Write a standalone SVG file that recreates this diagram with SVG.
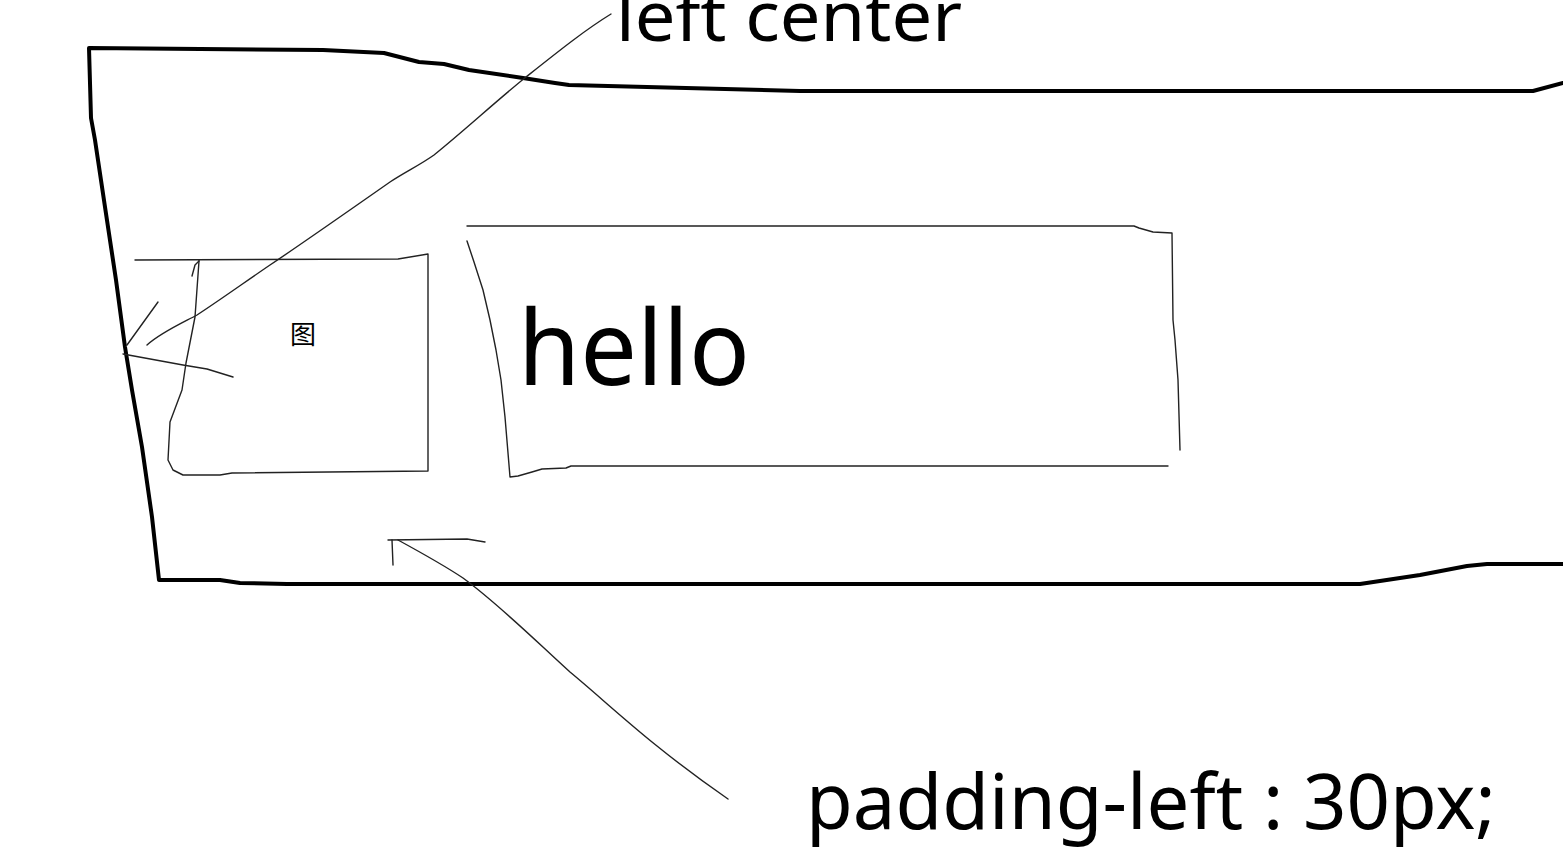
<svg xmlns="http://www.w3.org/2000/svg" width="1563" height="855" viewBox="0 0 1563 855">
<style>
.thick{fill:none;stroke:#000;stroke-width:4;stroke-linejoin:round;stroke-linecap:round}
.thin{fill:none;stroke:#222;stroke-width:1.4;stroke-linejoin:round;stroke-linecap:round}
.lbl{font-family:"Noto Sans","Open Sans","Liberation Sans",sans-serif;fill:#000}
</style>
<rect width="1563" height="855" fill="#fff"/>
<g id="container">
<path class="thick" d="M1563,83 L1533,91 L800,91 L569,85 L555,83 L523,78 L469,70 L444,64 L419,62 L384,53 L323,50 L89,48 L91,118 L95,140 L105,207 L116,280 L125,347 L132,390 L142,447 L152,517 L159,580 L220,580 L240,583 L287,584 L1360,584 L1420,575 L1467,566 L1487,564 L1563,564"/>
</g>
<g id="image-box">
<path class="thin" d="M135,260 L398,259 L428,254 L428,471 L232,473 L220,475 L183,475 L173,470 L168,460 L170,422 L182,390 L186,363 L195,317 L199,261"/>
<path class="thin" d="M192,276 L195,265 L199,261"/>
<text class="lbl" x="303" y="344" font-size="26" text-anchor="middle" style="font-family:'Noto Sans CJK SC','Noto Sans',sans-serif">图</text>
</g>
<g id="hello-box">
<path class="thin" d="M467,226 L1134,226 L1139,228 L1153,232 L1172,233 L1173,320 L1175,340 L1178,380 L1180,450"/>
<path class="thin" d="M467,241 L474,262 L483,290 L490,320 L496,350 L501,380 L505,417 L510,477 L518,476 L532,472 L542,469 L566,468 L571,466 L1168,466"/>
<text class="lbl" x="518" y="385" font-size="104" textLength="232" lengthAdjust="spacingAndGlyphs">hello</text>
</g>
<g id="connectors">
<path class="thin" d="M611,14 C585,30 560,50 526,77 C495,102 465,130 434,155 C420,165 405,172 390,182 C350,210 300,245 270,265 C245,282 220,300 197,315 C180,324 160,333 147,345"/>
<path class="thin" d="M127,345 L158,302"/>
<path class="thin" d="M123,354 L183,365 L207,369 L233,377"/>
<path class="thin" d="M388,540 L467,539 L485,542"/>
<path class="thin" d="M392,540 L393,565"/>
<path class="thin" d="M398,540 C420,552 445,566 463,578 C500,605 540,645 570,672 C610,705 650,745 728,799"/>
</g>
<g id="label-left-center">
<text class="lbl" x="616" y="41" font-size="70" textLength="346" lengthAdjust="spacingAndGlyphs">left center</text>
</g>
<g id="label-padding">
<text class="lbl" x="806" y="829" font-size="76" textLength="690" lengthAdjust="spacingAndGlyphs">padding-left : 30px;</text>
</g>
</svg>
